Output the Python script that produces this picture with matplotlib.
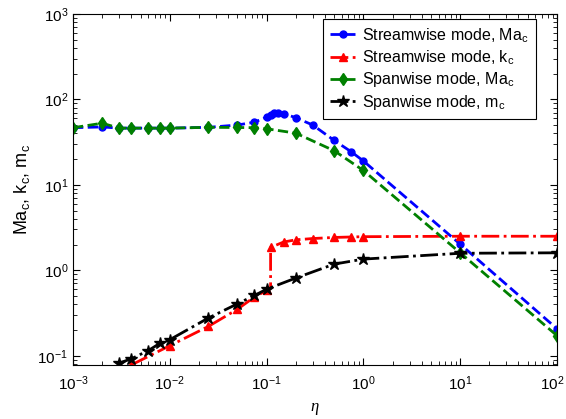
import numpy as np
import matplotlib
matplotlib.use('Agg')
import matplotlib.pyplot as plt
from matplotlib.ticker import LogLocator, NullFormatter, FuncFormatter

plt.rcParams['font.family'] = ['Liberation Sans', 'DejaVu Sans']
plt.rcParams['mathtext.default'] = 'regular'

# --- data ---
# Streamwise mode, Ma_c
eta_sw_ma = [0.001, 0.002, 0.003, 0.004, 0.006, 0.008, 0.01, 0.025, 0.05, 0.075,
             0.1, 0.11, 0.12, 0.13, 0.15, 0.2, 0.3, 0.5, 0.75, 1, 10, 100]
sw_ma = [46.5, 47.5, 46, 46, 46, 46, 46, 47, 50, 54,
         62, 66, 69, 70, 68, 61, 50, 33, 24.3, 19, 2.02, 0.207]

# Streamwise mode, k_c
eta_sw_k = [0.004, 0.01, 0.025, 0.05, 0.075, 0.1, 0.11, 0.11, 0.15, 0.2, 0.3,
            0.5, 0.75, 1, 10, 100]
sw_k = [0.078, 0.131, 0.22, 0.35, 0.487, 0.58, 0.62, 1.85, 2.14, 2.27, 2.35,
        2.42, 2.45, 2.47, 2.5, 2.5]
k_marker_idx = [0, 1, 2, 3, 4, 5, 7, 8, 9, 10, 11, 12, 13, 14, 15]

# Spanwise mode, Ma_c
eta_sp_ma = [0.001, 0.002, 0.003, 0.004, 0.006, 0.008, 0.01, 0.025, 0.05, 0.075,
             0.1, 0.2, 0.5, 1, 10, 100]
sp_ma = [46.5, 52.5, 46, 46, 46, 46, 46, 47, 46.8, 46.5,
         45.2, 40.2, 25, 14.7, 1.6, 0.172]

# Spanwise mode, m_c
eta_sp_m = [0.003, 0.004, 0.006, 0.008, 0.01, 0.025, 0.05, 0.075, 0.1, 0.2,
            0.5, 1, 10, 100]
sp_m = [0.082, 0.092, 0.115, 0.141, 0.154, 0.276, 0.405, 0.507, 0.6, 0.81,
        1.18, 1.35, 1.58, 1.6]

xmax = 1e2

fig = plt.figure(figsize=(5.66, 4.19), dpi=100)
ax = fig.add_axes([0.129, 0.129, 0.855, 0.838])

ax.plot(eta_sw_ma, sw_ma, '--', color='blue', lw=2, marker='o', ms=5,
        label='Streamwise mode, Ma$_c$')
ax.plot(eta_sw_k, sw_k, '-.', color='red', lw=2, marker='^', ms=6,
        markevery=k_marker_idx, label='Streamwise mode, k$_c$')
ax.plot(eta_sp_ma, sp_ma, '--', color=(0, 0.5, 0), lw=2, marker='d', ms=6,
        label='Spanwise mode, Ma$_c$')
ax.plot(eta_sp_m, sp_m, '-.', color='black', lw=2, marker='*', ms=9,
        label='Spanwise mode, m$_c$')

ax.set_xscale('log')
ax.set_yscale('log')
ax.set_xlim(1e-3, xmax)
ax.set_ylim(0.078, 1e3)

for axis in (ax.xaxis, ax.yaxis):
    axis.set_minor_locator(LogLocator(base=10, subs=np.arange(2, 10), numticks=20))
    axis.set_minor_formatter(NullFormatter())

# x labels: the last one is drawn separately so it stays inside the figure
ax.xaxis.set_major_formatter(FuncFormatter(
    lambda v, p: '' if v >= xmax * 0.99 else '$10^{%d}$' % round(np.log10(v))))
ax.annotate('$10^{%d}$' % round(np.log10(xmax)), xy=(xmax, 0),
            xycoords=('data', 'axes fraction'), xytext=(8, -9),
            textcoords='offset pixels', ha='right', va='top', fontsize=11)

ax.tick_params(which='both', direction='in', top=True, right=True, labelsize=11)
ax.tick_params(which='major', length=5)
ax.tick_params(which='minor', length=3)
ax.tick_params(axis='x', pad=7)

ax.set_xlabel('η', fontsize=12, style='italic', family='Liberation Serif', labelpad=4)
ax.set_ylabel('Ma$_c$, k$_c$, m$_c$', fontsize=13)

leg = ax.legend(loc='upper right', fontsize=11.5, fancybox=False,
                edgecolor='black', framealpha=1, handlelength=1.6,
                borderpad=0.45, labelspacing=0.22, borderaxespad=0,
                handletextpad=0.4, bbox_to_anchor=(0.957, 0.986))
leg.get_frame().set_linewidth(0.8)

fig.savefig('out.png', dpi=100)
